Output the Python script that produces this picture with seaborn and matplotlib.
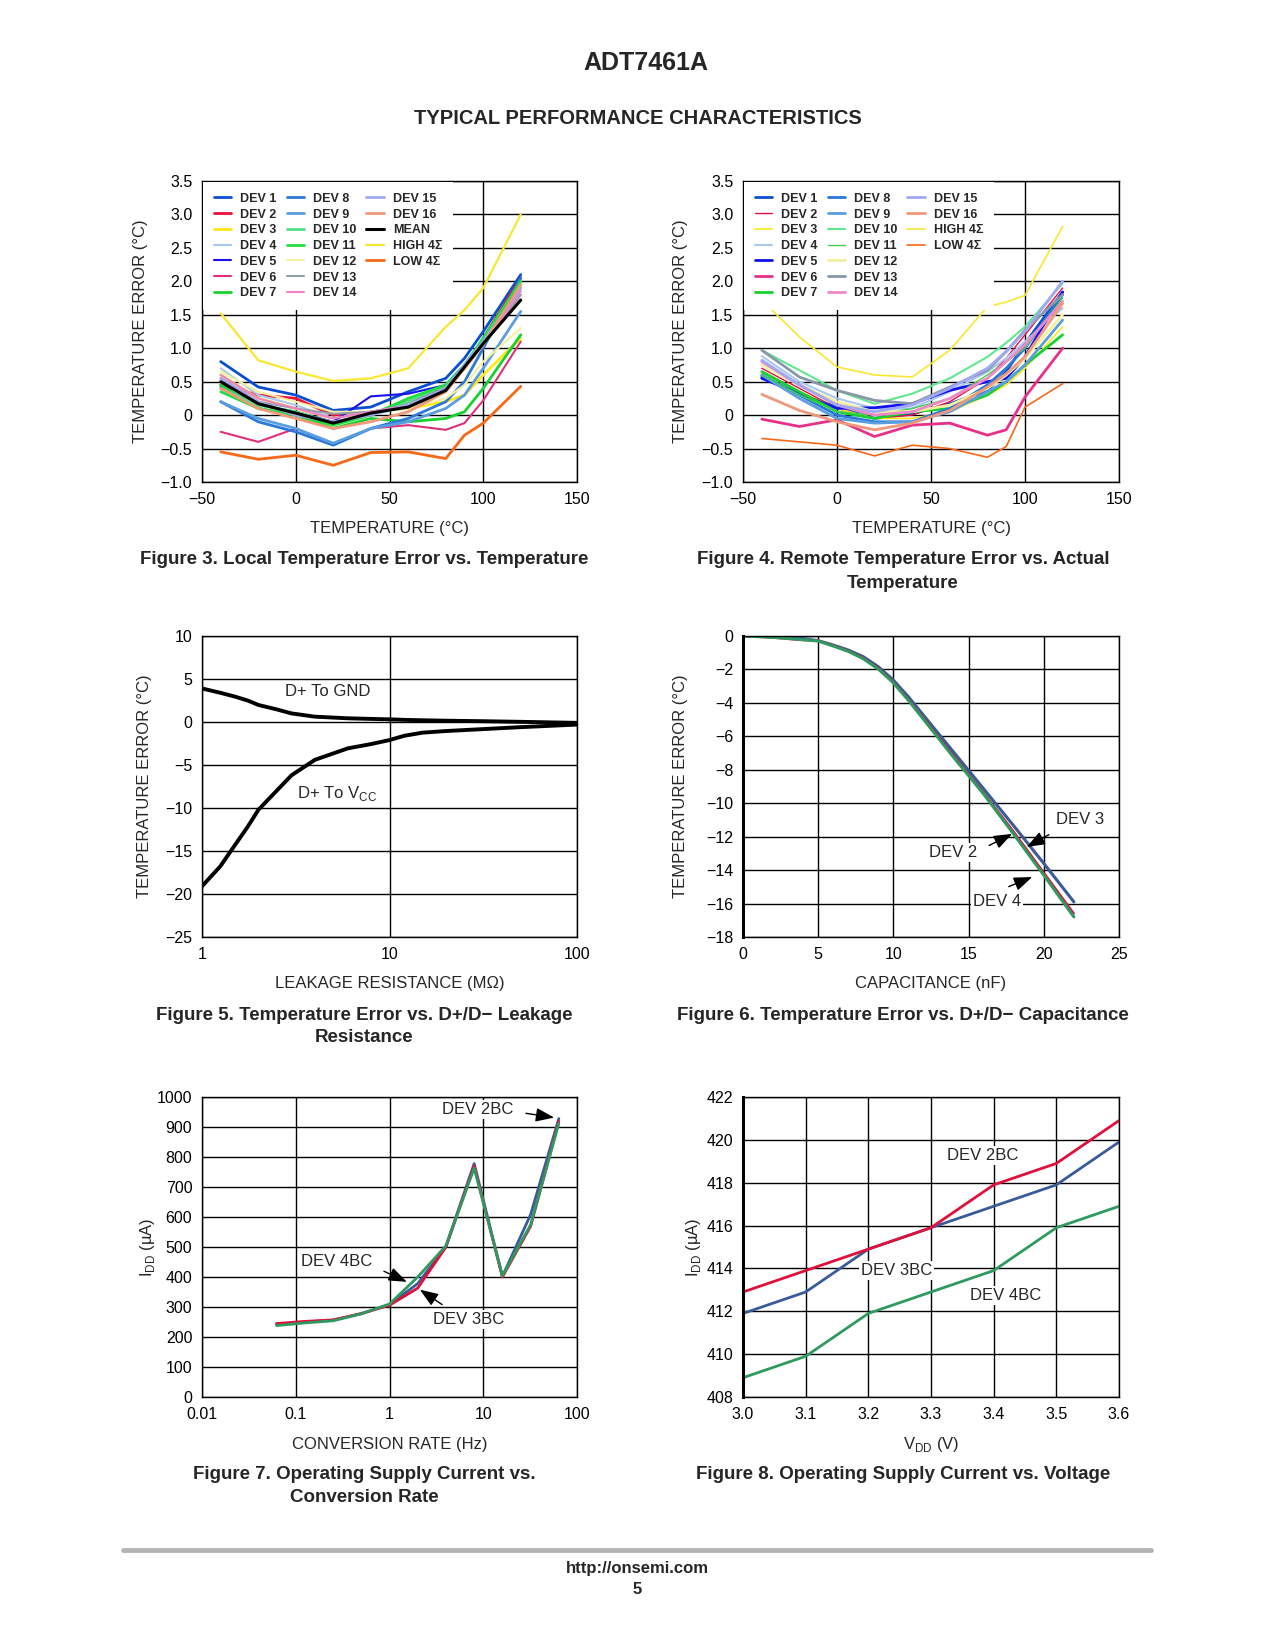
import numpy as np
import pandas as pd
import seaborn as sns
import matplotlib.pyplot as plt
from matplotlib.lines import Line2D

sns.set_style('white')
plt.rcParams['font.family'] = ['Liberation Sans', 'DejaVu Sans']
plt.rcParams['mathtext.fontset'] = 'custom'
plt.rcParams['mathtext.rm'] = 'Liberation Sans'
plt.rcParams['axes.unicode_minus'] = True

# ---- Figure 3 / 4 : temperature error vs temperature ----
temp_x = [-40, -20, 0, 20, 40, 60, 80, 90, 100, 120]

local_names = ['DEV 1', 'DEV 2', 'DEV 3', 'DEV 4', 'DEV 5', 'DEV 6', 'DEV 7',
               'DEV 8', 'DEV 9', 'DEV 10', 'DEV 11', 'DEV 12', 'DEV 13', 'DEV 14',
               'DEV 15', 'DEV 16', 'MEAN', 'HIGH 4Σ', 'LOW 4Σ']
local_vals = [
    [0.8, 0.42, 0.3, 0.07, 0.12, 0.35, 0.55, 0.85, 1.25, 2.1],
    [0.45, 0.3, 0.25, 0.0, 0.0, 0.2, 0.4, 0.7, 1.15, 2.05],
    [0.6, 0.25, 0.1, -0.05, 0.05, 0.1, 0.2, 0.3, 0.6, 1.15],
    [0.7, 0.3, 0.15, -0.05, 0.05, 0.15, 0.4, 0.7, 1.05, 1.8],
    [0.42, 0.15, 0.05, -0.1, 0.28, 0.32, 0.45, 0.7, 1.1, 1.95],
    [-0.25, -0.4, -0.2, -0.43, -0.2, -0.15, -0.22, -0.12, 0.22, 1.1],
    [0.45, 0.1, 0.0, -0.2, -0.05, -0.1, -0.05, 0.05, 0.4, 1.2],
    [0.2, -0.1, -0.25, -0.45, -0.2, -0.05, 0.2, 0.5, 1.0, 2.05],
    [0.2, -0.05, -0.2, -0.42, -0.2, -0.1, 0.1, 0.3, 0.7, 1.55],
    [0.4, 0.15, 0.05, -0.12, 0.0, 0.2, 0.45, 0.75, 1.1, 1.9],
    [0.35, 0.1, 0.0, -0.15, 0.0, 0.25, 0.45, 0.75, 1.15, 2.0],
    [0.65, 0.35, 0.2, 0.05, 0.05, 0.1, 0.25, 0.45, 0.8, 1.3],
    [0.55, 0.2, 0.1, 0.02, 0.05, 0.15, 0.4, 0.7, 1.05, 1.8],
    [0.6, 0.25, 0.1, -0.05, 0.05, 0.15, 0.4, 0.75, 1.05, 1.85],
    [0.55, 0.2, 0.0, -0.1, 0.0, 0.15, 0.4, 0.75, 1.1, 1.9],
    [0.4, 0.1, -0.05, -0.2, -0.1, 0.05, 0.35, 0.7, 1.05, 1.95],
    [0.5, 0.17, 0.03, -0.12, 0.03, 0.12, 0.37, 0.72, 1.07, 1.72],
    [1.52, 0.82, 0.65, 0.51, 0.55, 0.7, 1.32, 1.57, 1.9, 3.0],
    [-0.55, -0.66, -0.6, -0.75, -0.56, -0.55, -0.65, -0.3, -0.12, 0.43],
]
local_colors = ['#0a4fd0', '#e8103c', '#ffe619', '#a8c8f0', '#1a10f0', '#e0307a', '#18d030',
                '#2a78d8', '#5a9ee0', '#50e088', '#20e040', '#f4f0a0', '#90a0a8', '#f080c8',
                '#a0a8f4', '#f0987a', '#000000', '#f8e830', '#f86818']
local_lw = [2, 2, 2, 1.5, 1.5, 1.5, 2, 2, 2, 2, 2, 1.5, 1.5, 1.5, 2, 2, 2.2, 1.6, 2]

remote_names = ['DEV 1', 'DEV 2', 'DEV 3', 'DEV 4', 'DEV 5', 'DEV 6', 'DEV 7',
                'DEV 8', 'DEV 9', 'DEV 10', 'DEV 11', 'DEV 12', 'DEV 13', 'DEV 14',
                'DEV 15', 'DEV 16', 'HIGH 4Σ', 'LOW 4Σ']
remote_vals = [
    [0.57, 0.32, 0.12, -0.05, 0.02, 0.17, 0.37, 0.65, 1.07, 1.84],
    [0.7, 0.4, 0.1, -0.05, 0.0, 0.2, 0.55, 0.85, 1.2, 1.9],
    [0.65, 0.35, 0.1, -0.05, -0.05, 0.05, 0.3, 0.45, 0.7, 1.32],
    [0.88, 0.5, 0.25, 0.1, 0.1, 0.35, 0.65, 0.85, 1.1, 1.6],
    [0.55, 0.32, 0.1, 0.11, 0.17, 0.37, 0.5, 0.55, 0.87, 1.84],
    [-0.06, -0.17, -0.07, -0.32, -0.15, -0.12, -0.3, -0.22, 0.27, 1.0],
    [0.65, 0.35, 0.05, -0.05, 0.05, 0.1, 0.3, 0.5, 0.75, 1.2],
    [0.6, 0.3, 0.0, -0.1, -0.1, 0.1, 0.45, 0.7, 1.0, 1.8],
    [0.6, 0.25, -0.05, -0.12, -0.1, 0.05, 0.35, 0.5, 0.75, 1.42],
    [0.97, 0.67, 0.37, 0.17, 0.32, 0.55, 0.87, 1.08, 1.32, 1.97],
    [0.6, 0.3, 0.05, 0.0, 0.1, 0.25, 0.6, 0.8, 1.0, 1.75],
    [0.75, 0.45, 0.2, 0.05, 0.05, 0.15, 0.4, 0.6, 0.85, 1.5],
    [0.97, 0.57, 0.37, 0.22, 0.17, 0.42, 0.67, 0.95, 1.27, 1.8],
    [0.8, 0.45, 0.15, 0.0, 0.05, 0.25, 0.55, 0.8, 1.05, 1.7],
    [0.82, 0.45, 0.15, 0.05, 0.15, 0.4, 0.7, 0.95, 1.25, 2.0],
    [0.31, 0.07, -0.1, -0.22, -0.12, 0.07, 0.42, 0.62, 0.87, 1.67],
    [1.72, 1.17, 0.72, 0.6, 0.57, 0.97, 1.62, 1.69, 1.79, 2.82],
    [-0.35, -0.4, -0.45, -0.61, -0.45, -0.5, -0.63, -0.47, 0.12, 0.47],
]
remote_colors = ['#0a4fd0', '#e8103c', '#ffe619', '#a8c8f0', '#1010f0', '#e8308a', '#18d030',
                 '#2a78d8', '#5a9ee0', '#60e890', '#40d050', '#f4f0a0', '#8898a8', '#f088c8',
                 '#a0a8f4', '#f0987a', '#f8e830', '#f86818']
remote_lw = [2, 1, 1.2, 1.5, 2, 2, 2, 2, 2, 1.5, 1, 2, 2, 2, 2, 2, 1.2, 1.2]

# ---- Figure 5 : leakage resistance ----
leak_x = [1, 1.25, 1.5, 1.75, 2, 2.5, 3, 4, 6, 8, 10, 12, 15, 20, 30, 50, 100]
leak_gnd = [3.9, 3.4, 2.95, 2.5, 1.98, 1.47, 1.0, 0.62, 0.43, 0.36, 0.31, 0.25, 0.2, 0.15, 0.1, 0.02, -0.1]
leak_vcc = [-19.1, -16.8, -14.3, -12.2, -10.2, -8.0, -6.2, -4.4, -3.06, -2.56, -2.1, -1.6, -1.24, -1.05, -0.85, -0.6, -0.3]

# ---- Figure 6 : capacitance ----
cap_x = [0, 2, 4, 5, 6, 7, 8, 9, 10, 11, 12, 14, 16, 18, 20, 22]
cap_dev2 = [0, -0.1, -0.25, -0.28, -0.56, -0.88, -1.3, -1.92, -2.74, -3.78, -4.9, -7.15, -9.38, -11.7, -14.15, -16.6]
cap_dev3 = [0, -0.05, -0.15, -0.28, -0.54, -0.84, -1.24, -1.84, -2.64, -3.64, -4.74, -6.94, -9.14, -11.35, -13.6, -15.9]
cap_dev4 = [0, -0.08, -0.22, -0.3, -0.6, -0.92, -1.36, -1.98, -2.8, -3.85, -4.98, -7.25, -9.45, -11.85, -14.3, -16.8]

# ---- Figure 7 : conversion rate ----
rate_x = [0.0625, 0.125, 0.25, 0.5, 1, 2, 4, 8, 16, 32, 64]
rate_2bc = [242, 250, 256, 278, 308, 378, 502, 778, 402, 608, 928]
rate_3bc = [245, 252, 257, 278, 306, 363, 500, 770, 400, 569, 918]
rate_4bc = [238, 247, 254, 277, 310, 400, 504, 763, 404, 574, 912]

# ---- Figure 8 : supply voltage ----
vdd_x = [3.0, 3.1, 3.2, 3.3, 3.4, 3.5, 3.6]
vdd_2bc = [412.9, 413.9, 414.9, 415.9, 417.9, 418.9, 420.9]
vdd_3bc = [411.9, 412.9, 414.9, 415.9, 416.9, 417.9, 419.9]
vdd_4bc = [408.9, 409.9, 411.9, 412.9, 413.9, 415.9, 416.9]

BLUE = '#3a5a9a'
RED = '#e0103c'
GREEN = '#2e9a60'

W, H = 1276, 1651
fig = plt.figure(figsize=(W / 100, H / 100), dpi=100)


def rect(x0, y0, x1, y1):
    return [x0 / W, 1 - y1 / H, (x1 - x0) / W, (y1 - y0) / H]


def style(ax, xt, xl, yt, yl, xlabel, ylabel, thick_left=False):
    ax.set_xticks(xt)
    ax.set_xticklabels(xl)
    ax.set_yticks(yt)
    ax.set_yticklabels(yl)
    ax.minorticks_off()
    ax.tick_params(length=0, pad=7, labelsize=11.5, colors='black')
    ax.grid(True, color='black', lw=1)
    ax.set_axisbelow(True)
    for s in ax.spines.values():
        s.set_color('black')
        s.set_linewidth(1)
    if thick_left:
        ax.spines['left'].set_linewidth(2.2)
    ax.set_xlabel(xlabel, fontsize=12)
    ax.set_ylabel(ylabel, fontsize=12)
    ax.xaxis.set_label_coords(0.5, -0.128)
    ax.yaxis.set_label_coords(-0.143, 0.5)


def fmt(v):
    return ('%g' % v).replace('-', '\u2212')


def dev_legend(ax, rows=7):
    h, l = ax.get_legend_handles_labels()
    while len(h) < rows * 3:
        h.append(Line2D([], [], color='none'))
        l.append('')
    ax.legend(h, l, ncol=3, loc='upper left', frameon=True, facecolor='white', edgecolor='none',
              framealpha=1, fancybox=False, prop={'weight': 'bold', 'size': 9},
              handlelength=1.4, handletextpad=0.7, columnspacing=0.8, labelspacing=0.3,
              borderaxespad=0.1, borderpad=0.85)


yt1 = np.arange(-1.0, 3.51, 0.5)
yl1 = ['0' if abs(v) < 1e-9 else ('%.1f' % v).replace('-', '\u2212') for v in yt1]
xt1 = [-50, 0, 50, 100, 150]

# Figure 3
ax1 = fig.add_axes(rect(202, 181, 577, 482))
for n, v, c, lw in zip(local_names, local_vals, local_colors, local_lw):
    sns.lineplot(x=temp_x, y=v, ax=ax1, color=c, linewidth=lw, label=n, legend=False)
ax1.set_xlim(-50, 150)
ax1.set_ylim(-1.0, 3.5)
style(ax1, xt1, [fmt(v) for v in xt1], yt1, yl1, 'TEMPERATURE (°C)', 'TEMPERATURE ERROR (°C)')
dev_legend(ax1)

# Figure 4
ax2 = fig.add_axes(rect(743, 181, 1119, 482))
for n, v, c, lw in zip(remote_names, remote_vals, remote_colors, remote_lw):
    sns.lineplot(x=temp_x, y=v, ax=ax2, color=c, linewidth=lw, label=n, legend=False)
ax2.set_xlim(-50, 150)
ax2.set_ylim(-1.0, 3.5)
style(ax2, xt1, [fmt(v) for v in xt1], yt1, yl1, 'TEMPERATURE (°C)', 'TEMPERATURE ERROR (°C)')
ax2.yaxis.set_label_coords(-0.146, 0.5)
dev_legend(ax2)

# Figure 5
ax3 = fig.add_axes(rect(202, 636, 577, 937))
sns.lineplot(x=leak_x, y=leak_gnd, ax=ax3, color='black', linewidth=2.8)
sns.lineplot(x=leak_x, y=leak_vcc, ax=ax3, color='black', linewidth=2.8)
ax3.set_xscale('log')
ax3.set_xlim(1, 100)
ax3.set_ylim(-25, 10)
yt3 = list(range(-25, 11, 5))
style(ax3, [1, 10, 100], ['1', '10', '100'], yt3, [fmt(v) for v in yt3],
      'LEAKAGE RESISTANCE (MΩ)', 'TEMPERATURE ERROR (°C)')
ax3.yaxis.set_label_coords(-0.134, 0.5)
box = dict(facecolor='white', edgecolor='none', pad=1.5)
ax3.text(4.66, 3.6, 'D+ To GND', fontsize=12, ha='center', va='center', bbox=box)
ax3.text(5.27, -8.3, 'D+ To V$_\\mathrm{CC}$', fontsize=12, ha='center', va='center', bbox=box)

# Figure 6
ax4 = fig.add_axes(rect(743, 636, 1119, 937))
sns.lineplot(x=cap_x, y=cap_dev3, ax=ax4, color=BLUE, linewidth=2.2)
sns.lineplot(x=cap_x, y=cap_dev2, ax=ax4, color=RED, linewidth=1.6)
sns.lineplot(x=cap_x, y=cap_dev4, ax=ax4, color=GREEN, linewidth=2.2)
ax4.set_xlim(0, 25)
ax4.set_ylim(-18, 0)
yt4 = list(range(-18, 1, 2))
style(ax4, [0, 5, 10, 15, 20, 25], ['0', '5', '10', '15', '20', '25'], yt4, [fmt(v) for v in yt4],
      'CAPACITANCE (nF)', 'TEMPERATURE ERROR (°C)', thick_left=True)
ax4.yaxis.set_label_coords(-0.146, 0.5)
arr = dict(arrowstyle='-|>,head_length=0.8,head_width=0.3', color='black', lw=1, mutation_scale=14)
ax4.text(22.4, -11.0, 'DEV 3', fontsize=12, ha='center', va='center', bbox=box)
ax4.annotate('', xy=(18.7, -12.7), xytext=(20.5, -11.8), arrowprops=arr)
ax4.text(13.95, -12.96, 'DEV 2', fontsize=12, ha='center', va='center', bbox=box)
ax4.annotate('', xy=(18.06, -11.76), xytext=(16.2, -12.6), arrowprops=arr)
ax4.text(16.9, -15.9, 'DEV 4', fontsize=12, ha='center', va='center', bbox=box)
ax4.annotate('', xy=(19.4, -14.35), xytext=(17.5, -15.05), arrowprops=arr)

# Figure 7
ax5 = fig.add_axes(rect(202, 1097, 577, 1397))
sns.lineplot(x=rate_x, y=rate_2bc, ax=ax5, color=BLUE, linewidth=2)
sns.lineplot(x=rate_x, y=rate_3bc, ax=ax5, color=RED, linewidth=2)
sns.lineplot(x=rate_x, y=rate_4bc, ax=ax5, color=GREEN, linewidth=2)
ax5.set_xscale('log')
ax5.set_xlim(0.01, 100)
ax5.set_ylim(0, 1000)
yt5 = list(range(0, 1001, 100))
style(ax5, [0.01, 0.1, 1, 10, 100], ['0.01', '0.1', '1', '10', '100'], yt5, [str(v) for v in yt5],
      'CONVERSION RATE (Hz)', 'I$_\\mathrm{DD}$ (µA)')
ax5.yaxis.set_label_coords(-0.121, 0.5)
ax5.xaxis.set_label_coords(0.5, -0.133)
ax5.text(8.63, 957, 'DEV 2BC', fontsize=12, ha='center', va='center', bbox=box)
ax5.annotate('', xy=(61, 930), xytext=(26.7, 947), arrowprops=arr)
ax5.text(0.273, 453, 'DEV 4BC', fontsize=12, ha='center', va='center', bbox=box)
ax5.annotate('', xy=(1.63, 380), xytext=(0.82, 423), arrowprops=arr)
ax5.text(6.9, 260, 'DEV 3BC', fontsize=12, ha='center', va='center', bbox=box)
ax5.annotate('', xy=(1.99, 363), xytext=(3.85, 303), arrowprops=arr)

# Figure 8
ax6 = fig.add_axes(rect(743, 1097, 1119, 1397))
sns.lineplot(x=vdd_x, y=vdd_3bc, ax=ax6, color=BLUE, linewidth=2)
sns.lineplot(x=vdd_x, y=vdd_2bc, ax=ax6, color=RED, linewidth=2)
sns.lineplot(x=vdd_x, y=vdd_4bc, ax=ax6, color=GREEN, linewidth=2)
ax6.set_xlim(3.0, 3.6)
ax6.set_ylim(408, 422)
yt6 = list(range(408, 423, 2))
style(ax6, vdd_x, ['%.1f' % v for v in vdd_x], yt6, [str(v) for v in yt6],
      'V$_\\mathrm{DD}$ (V)', 'I$_\\mathrm{DD}$ (µA)', thick_left=True)
ax6.yaxis.set_label_coords(-0.107, 0.5)
ax6.xaxis.set_label_coords(0.5, -0.128)
ax6.text(3.382, 419.25, 'DEV 2BC', fontsize=12, ha='center', va='center', bbox=box)
ax6.text(3.245, 413.9, 'DEV 3BC', fontsize=12, ha='center', va='center', bbox=box)
ax6.text(3.419, 412.75, 'DEV 4BC', fontsize=12, ha='center', va='center', bbox=box)


# page text
def ptext(x, y, s, size, bold=True):
    fig.text(x / W, 1 - y / H, s, ha='center', va='center', fontsize=size,
             fontweight='bold' if bold else 'normal')


ptext(646, 63, 'ADT7461A', 18)
ptext(638, 119, 'TYPICAL PERFORMANCE CHARACTERISTICS', 14.5)
ptext(364, 560, 'Figure 3. Local Temperature Error vs. Temperature', 13.5)
ptext(903, 560, 'Figure 4. Remote Temperature Error vs. Actual', 13.5)
ptext(903, 583, 'Temperature', 13.5)
ptext(364, 1015, 'Figure 5. Temperature Error vs. D+/D\u2212 Leakage', 13.5)
ptext(364, 1038, 'Resistance', 13.5)
ptext(903, 1015, 'Figure 6. Temperature Error vs. D+/D\u2212 Capacitance', 13.5)
ptext(364, 1474, 'Figure 7. Operating Supply Current vs.', 13.5)
ptext(364, 1497, 'Conversion Rate', 13.5)
ptext(903, 1474, 'Figure 8. Operating Supply Current vs. Voltage', 13.5)
fig.add_artist(Line2D([123 / W, 1151 / W], [1 - 1550 / H, 1 - 1550 / H], color='#b4b4b4', lw=3.5))
ptext(637, 1568, 'http://onsemi.com', 12)
ptext(637, 1589, '5', 12)

fig.savefig('out.png', dpi=100, facecolor='white')
